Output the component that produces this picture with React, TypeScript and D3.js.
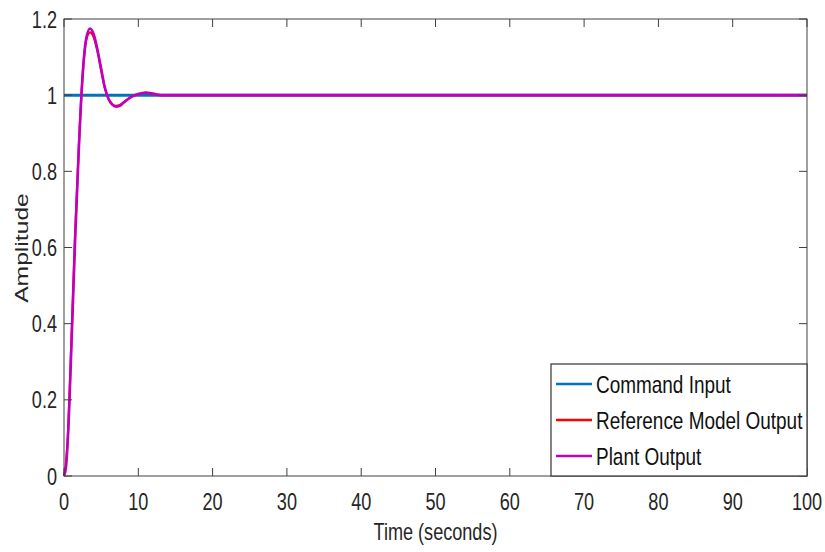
import { useEffect, useRef } from "react";
import * as d3 from "d3";

// step response samples
const timeS = [0, 0.25, 0.5, 1, 1.5, 2, 2.5, 3, 3.5, 4, 4.5, 5, 5.5, 6, 6.5, 7, 7.5, 8, 9, 10, 11, 12, 13, 14, 20, 40, 60, 80, 100];
const plantOut = [0, 0.02, 0.09, 0.34, 0.62, 0.86, 1.05, 1.15, 1.175, 1.16, 1.12, 1.07, 1.02, 0.99, 0.975, 0.97, 0.972, 0.98, 0.995, 1.003, 1.007, 1.004, 1.0, 1.0, 1.0, 1.0, 1.0, 1.0, 1.0];
const refOut = [0, 0.03, 0.1, 0.36, 0.64, 0.87, 1.05, 1.145, 1.165, 1.152, 1.115, 1.065, 1.018, 0.99, 0.976, 0.972, 0.974, 0.981, 0.995, 1.003, 1.006, 1.003, 1.0, 1.0, 1.0, 1.0, 1.0, 1.0, 1.0];
const cmdTime = [0, 100];
const cmdIn = [1, 1];

const xTicks = [0, 10, 20, 30, 40, 50, 60, 70, 80, 90, 100];
const yTicks = [0, 0.2, 0.4, 0.6, 0.8, 1, 1.2];

const seriesNames = ["Command Input", "Reference Model Output", "Plant Output"];
const seriesColors = ["#0072bd", "#ff0000", "#c000c0"];

const FONT = "'Liberation Sans', Arial, sans-serif";
const SQ = 0.77; // the picture is squashed sideways, so text looks narrow

export default function App() {
  const svgRef = useRef<SVGSVGElement>(null);

  useEffect(() => {
    document.body.style.margin = "0";
    const svg = d3.select(svgRef.current);
    svg.selectAll("*").remove();

    const left = 64, right = 807, top = 19, bottom = 476;
    const x = d3.scaleLinear().domain([0, 100]).range([left, right]);
    const y = d3.scaleLinear().domain([0, 1.2]).range([bottom, top]);

    svg.append("rect")
      .attr("x", 0).attr("y", 0).attr("width", 825).attr("height", 552)
      .attr("fill", "#fff");

    const line = d3.line<[number, number]>()
      .x(d => x(d[0]))
      .y(d => y(d[1]))
      .curve(d3.curveMonotoneX);

    const series: [number, number][][] = [
      cmdTime.map((t, i) => [t, cmdIn[i]]),
      timeS.map((t, i) => [t, refOut[i]]),
      timeS.map((t, i) => [t, plantOut[i]]),
    ];
    const widths = [3, 2.2, 2.6];

    series.forEach((s, i) => {
      svg.append("path")
        .attr("d", line(s))
        .attr("fill", "none")
        .attr("stroke", seriesColors[i])
        .attr("stroke-width", widths[i]);
    });

    // axes box with inward ticks (matlab style)
    const axCol = "#404040";
    const g = svg.append("g").attr("stroke", axCol).attr("stroke-width", 1);
    g.append("rect")
      .attr("x", left).attr("y", top)
      .attr("width", right - left).attr("height", bottom - top)
      .attr("fill", "none");
    xTicks.forEach(t => {
      g.append("line").attr("x1", x(t)).attr("x2", x(t)).attr("y1", bottom).attr("y2", bottom - 8);
      g.append("line").attr("x1", x(t)).attr("x2", x(t)).attr("y1", top).attr("y2", top + 8);
    });
    yTicks.forEach(v => {
      g.append("line").attr("x1", left).attr("x2", left + 8).attr("y1", y(v)).attr("y2", y(v));
      g.append("line").attr("x1", right).attr("x2", right - 8).attr("y1", y(v)).attr("y2", y(v));
    });

    const txt = svg.append("g").attr("font-family", FONT).attr("fill", "#262626");
    const label = (px: number, py: number, s: string, size: number, anchor: string) =>
      txt.append("text")
        .attr("transform", `translate(${px},${py}) scale(${SQ},1)`)
        .attr("text-anchor", anchor).attr("font-size", size)
        .text(s);

    xTicks.forEach(t => label(x(t), 510, d3.format("d")(t), 23.5, "middle"));
    yTicks.forEach(v => label(57, y(v) + 8.5, String(v), 23.5, "end"));

    label((left + right) / 2, 540, "Time (seconds)", 23.5, "middle");
    txt.append("text")
      .attr("transform", `translate(28,248) scale(1,${1 / SQ}) rotate(-90)`)
      .attr("text-anchor", "middle").attr("font-size", 19)
      .text("Amplitude");

    // legend
    const lg = svg.append("g");
    lg.append("rect")
      .attr("x", 551).attr("y", 364).attr("width", 256).attr("height", 112)
      .attr("fill", "#fff").attr("stroke", "#333").attr("stroke-width", 1.2);
    seriesNames.forEach((n, i) => {
      const yy = 384 + i * 36;
      lg.append("line")
        .attr("x1", 556).attr("x2", 592).attr("y1", yy).attr("y2", yy)
        .attr("stroke", seriesColors[i]).attr("stroke-width", 2.5);
      lg.append("text")
        .attr("transform", `translate(596,${yy + 9}) scale(0.79,1)`)
        .attr("font-family", FONT).attr("font-size", 24).attr("fill", "#111")
        .text(n);
    });
  }, []);

  return <svg ref={svgRef} width={825} height={552} style={{ display: "block" }} />;
}
